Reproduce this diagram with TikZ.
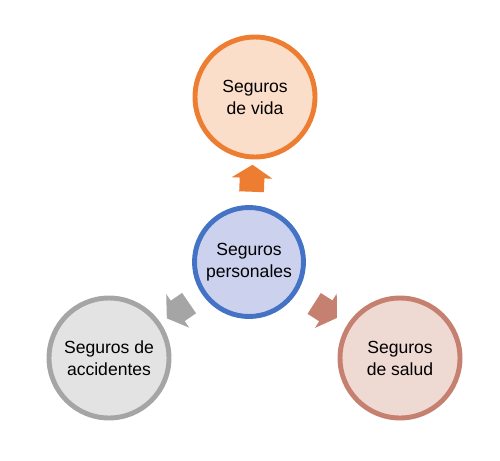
\documentclass[tikz,border=0pt]{standalone}
\usepackage{fontspec}
\setmainfont{Liberation Sans}
\usetikzlibrary{shapes.arrows, positioning, calc}
\definecolor{persline}{RGB}{68, 114, 196}
\definecolor{persfill}{RGB}{204, 210, 238}
\definecolor{vidaline}{RGB}{237, 125, 49}
\definecolor{vidafill}{RGB}{251, 222, 202}
\definecolor{acciline}{RGB}{165, 165, 165}
\definecolor{accifill}{RGB}{227, 227, 227}
\definecolor{saludline}{RGB}{198, 128, 112}
\definecolor{saludfill}{RGB}{239, 217, 211}

\begin{document}
\begin{tikzpicture}[x=0.02cm, y=-0.02cm,
    every node/.style={font=\fontsize{10}{12.5}\selectfont},
    ringbox/.style={circle, line width=2.8pt, align=center, minimum size=2.4cm, inner sep=0pt},
    blockarrow/.style={single arrow, draw=none, inner xsep=0pt, inner ysep=0.24cm,
      minimum height=0.54cm, single arrow head extend=0.16cm, single arrow tip angle=114,
      sloped, allow upside down}]
  \useasboundingbox (0,0) rectangle (500,460);
  \node[ringbox, draw=persline, fill=persfill, minimum size=2.18cm]
    (pers) at (249,262) {Seguros\\personales};
  \foreach \name/\pos/\lc/\fc/\desc in {
      vida/{255,97}/vidaline/vidafill/{Seguros\\de vida},
      acci/{109,358}/acciline/accifill/{Seguros de\\accidentes},
      salud/{400,358}/saludline/saludfill/{Seguros\\de salud}}{
    \node[ringbox, draw=\lc, fill=\fc] (\name) at (\pos) {\desc};
    \path (pers) -- (\name) node[blockarrow, fill=\lc, pos=0.5] (arr\name) {};
  }
\end{tikzpicture}
\end{document}
